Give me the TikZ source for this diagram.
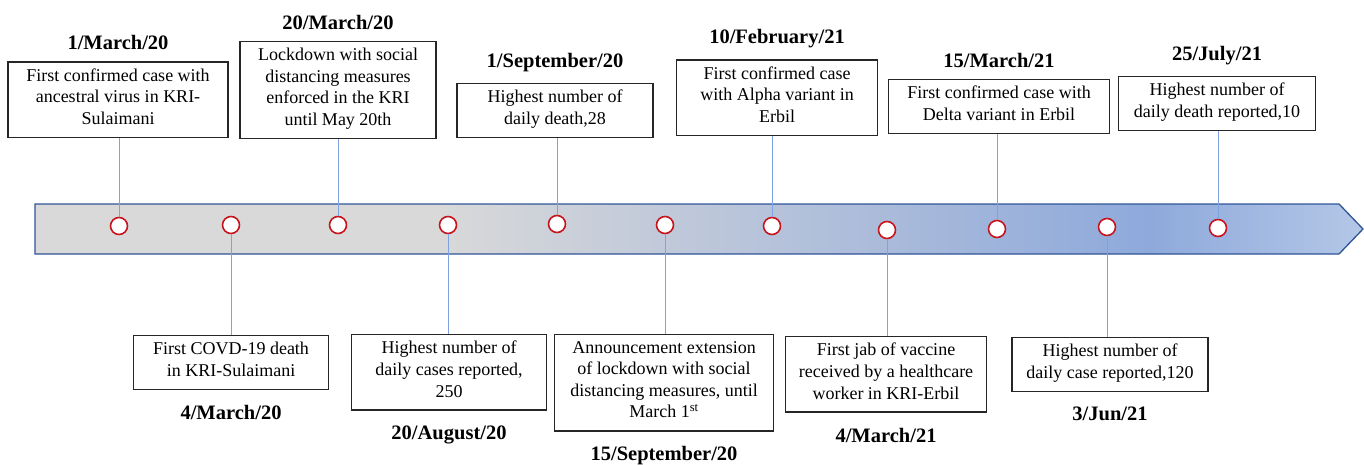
\documentclass[tikz,border=0pt]{standalone}
\usepackage{fontspec}
\setmainfont{Liberation Serif}
\usetikzlibrary{positioning}

\definecolor{bandgrey}{HTML}{D9D9D9}
\definecolor{bandblue}{HTML}{8EA9DB}
\definecolor{bandlight}{HTML}{B4C7E7}
\definecolor{bandedge}{HTML}{2F5597}
\definecolor{stemblue}{HTML}{7FA3E0}
\definecolor{dotred}{HTML}{C8151E}

\pgfdeclarehorizontalshading{bandshade}{100bp}{color(0bp)=(bandgrey); color(25bp)=(bandgrey); color(40bp)=(bandgrey); color(67bp)=(bandblue); color(75bp)=(bandlight); color(100bp)=(bandlight)}

\tikzset{
  event/.style={draw=black!85, line width=1.3pt, fill=white, align=center,
    inner xsep=4pt, inner ysep=6.5pt, font=\fontsize{18}{21.6}\selectfont,
    execute at begin node=\strut, execute at end node=\strut},
  date/.style={font=\fontsize{20.5}{24}\selectfont\bfseries, inner sep=1pt},
  dot/.style={circle, draw=dotred, line width=1.6pt, fill=white,
    minimum size=17pt, inner sep=0pt},
  stem/.style={draw=stemblue, line width=0.7pt}
}

\begin{document}
\begin{tikzpicture}[x=1pt, y=-1pt]
  \useasboundingbox (0,0) rectangle (1364,465);
  % The time band (arrow shaped).
  \draw[bandedge, line width=1.3pt, shade, shading=bandshade]
    (35,204) -- (1339,204) -- (1363,229) -- (1339,254) -- (35,254) -- cycle;
  % Event markers on the band.
  \foreach \x/\y [count=\i] in {119/226, 231/225, 338/225, 448/225, 557/224,
      665/225, 772/226, 887/230, 997/229, 1107/227, 1218/228}
    \node[dot] (c\i) at (\x,\y) {};

  % Events above the band.
  \node[event, anchor=south, minimum width=220pt] (b1) at (118,138)
    {First confirmed case with\\ ancestral virus in KRI-\\ Sulaimani};
  \node[event, anchor=south, minimum width=196pt] (b3) at (338,139)
    {Lockdown with social\\ distancing measures\\ enforced in the KRI\\ until May 20th};
  \node[event, anchor=south, minimum width=196pt] (b5) at (555,138)
    {Highest number of\\ daily death,28};
  \node[event, anchor=south, minimum width=201pt] (b7) at (777,136)
    {First confirmed case\\ with Alpha variant in\\ Erbil};
  \node[event, anchor=south, minimum width=221pt] (b9) at (999,134)
    {First confirmed case with\\ Delta variant in Erbil};
  \node[event, anchor=south, minimum width=197pt] (b11) at (1217,131)
    {Highest number of\\ daily death reported,10};

  % Events below the band.
  \node[event, anchor=north, minimum width=195pt] (b2) at (231,335)
    {First COVD-19 death\\ in KRI-Sulaimani};
  \node[event, anchor=north, minimum width=195pt] (b4) at (449,334)
    {Highest number of\\ daily cases reported,\\ 250};
  \node[event, anchor=north, minimum width=219pt] (b6) at (664,334)
    {Announcement extension\\ of lockdown with social\\ distancing measures, until\\ March 1\textsuperscript{st}};
  \node[event, anchor=north, minimum width=201pt] (b8) at (886,336)
    {First jab of vaccine\\ received by a healthcare\\ worker in KRI-Erbil};
  \node[event, anchor=north, minimum width=196pt] (b10) at (1110,337)
    {Highest number of\\ daily case reported,120};

  % Dates.
  \node[date, above=10pt of b1] (t1) {1/March/20};
  \node[date, above=10pt of b3] (t3) {20/March/20};
  \node[date, above=10pt of b5] (t5) {1/September/20};
  \node[date, above=10pt of b7] (t7) {10/February/21};
  \node[date, above=10pt of b9] (t9) {15/March/21};
  \node[date, above=10pt of b11] (t11) {25/July/21};
  \node[date, below=14pt of b2] (t2) {4/March/20};
  \node[date, below=14pt of b4] (t4) {20/August/20};
  \node[date, below=14pt of b6] (t6) {15/September/20};
  \node[date, below=14pt of b8] (t8) {4/March/21};
  \node[date, below=14pt of b10] (t10) {3/Jun/21};

  % Stems from markers to boxes.
  \foreach \i in {1,3,5,7,9,11}
    \draw[stem] (c\i) -- (c\i |- b\i.south);
  \foreach \i in {2,4,6,8,10}
    \draw[stem] (c\i) -- (c\i |- b\i.north);
\end{tikzpicture}
\end{document}
